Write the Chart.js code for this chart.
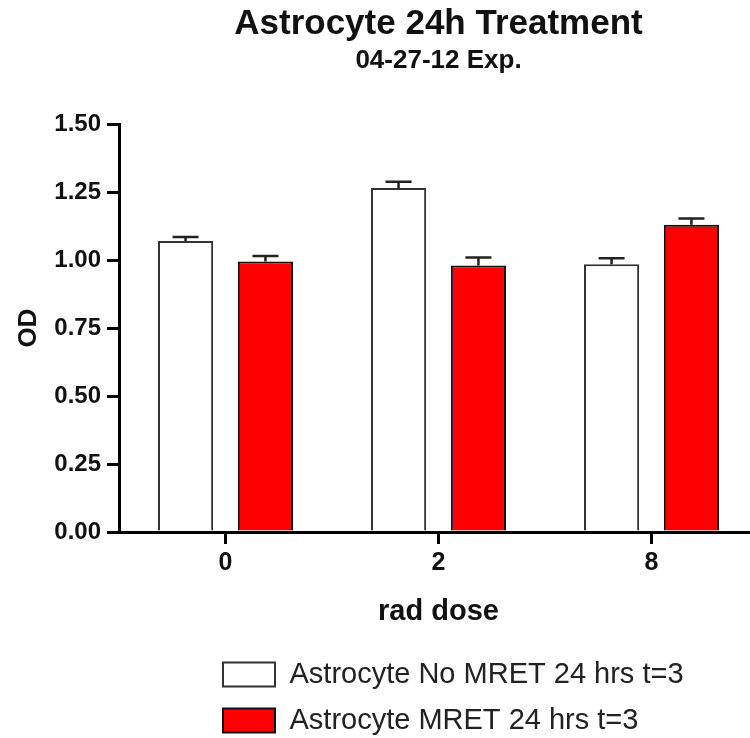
<!DOCTYPE html>
<html>
<head>
<meta charset="utf-8">
<title>Astrocyte 24h Treatment</title>
<script src="https://cdn.jsdelivr.net/npm/chart.js@4.4.1/dist/chart.umd.min.js"></script>
<style>
  html, body { margin: 0; padding: 0; background: #fff; overflow: hidden; }
  #chart { display: block; }
</style>
</head>
<body>
<canvas id="chart" width="758" height="738"></canvas>
<script>
// dati
const doseLabels = ["0", "2", "8"];
const noMretValues = [1.07, 1.265, 0.985];
const noMretErrors = [0.015, 0.023, 0.022];
const mretValues = [0.995, 0.98, 1.13];
const mretErrors = [0.02, 0.03, 0.023];
const yTicks = [0, 0.25, 0.5, 0.75, 1.0, 1.25, 1.5];

const FONT = "'Liberation Sans', Arial, sans-serif";
const INK = "#111";

// barre di errore (solo verso l'alto)
const errorBars = {
  id: "errorBars",
  afterDatasetsDraw(chart) {
    const ctx = chart.ctx;
    const yScale = chart.scales.y;
    chart.data.datasets.forEach((ds, i) => {
      const meta = chart.getDatasetMeta(i);
      meta.data.forEach((bar, j) => {
        const top = yScale.getPixelForValue(ds.data[j] + ds.errors[j]);
        ctx.save();
        ctx.strokeStyle = "#222";
        ctx.lineWidth = 2.5;
        ctx.beginPath();
        ctx.moveTo(bar.x, bar.y);
        ctx.lineTo(bar.x, top);
        ctx.moveTo(bar.x - 13, top);
        ctx.lineTo(bar.x + 13, top);
        ctx.stroke();
        ctx.restore();
      });
    });
  }
};

// sposta la legenda sotto il grafico, allineata a sinistra
const legendShift = {
  id: "legendShift",
  beforeDraw(chart) {
    chart.legend.left = 206;
    chart.legend.top = 643;
  }
};

new Chart(document.getElementById("chart"), {
  type: "bar",
  data: {
    labels: doseLabels,
    datasets: [
      {
        label: "Astrocyte No MRET 24 hrs t=3",
        data: noMretValues,
        errors: noMretErrors,
        backgroundColor: "#ffffff",
        borderColor: "#333",
        borderWidth: 2,
        categoryPercentage: 0.75,
        barPercentage: 0.69,
      },
      {
        label: "Astrocyte MRET 24 hrs t=3",
        data: mretValues,
        errors: mretErrors,
        backgroundColor: "#ff0000",
        borderColor: "#111",
        borderWidth: 2,
        categoryPercentage: 0.75,
        barPercentage: 0.69,
      },
    ],
  },
  options: {
    responsive: false,
    animation: false,
    layout: { padding: 0 },
    plugins: {
      title: {
        display: true,
        text: "Astrocyte 24h Treatment",
        color: INK,
        fullSize: false,
        font: { family: FONT, size: 35, weight: "bold" },
        padding: { top: 3, bottom: 0 },
      },
      subtitle: {
        display: true,
        text: "04-27-12 Exp.",
        color: INK,
        fullSize: false,
        font: { family: FONT, size: 26, weight: "bold" },
        padding: { top: 0, bottom: 48 },
      },
      legend: {
        position: "bottom",
        align: "start",
        labels: {
          color: "#222",
          boxWidth: 52,
          boxHeight: 24,
          padding: 17,
          font: { family: FONT, size: 29 },
        },
      },
      tooltip: { enabled: false },
    },
    scales: {
      x: {
        afterFit: (scale) => { scale.height = 104; },
        grid: {
          offset: false,
          drawOnChartArea: false,
          drawTicks: true,
          tickLength: 12,
          lineWidth: 3,
          color: "#000",
        },
        border: { display: true, width: 3, color: "#000" },
        ticks: {
          color: INK,
          padding: 4,
          font: { family: FONT, size: 25, weight: "bold" },
        },
        title: {
          display: true,
          text: "rad dose",
          color: INK,
          font: { family: FONT, size: 29, weight: "bold" },
          padding: { top: 0, bottom: 7 },
        },
      },
      y: {
        min: 0,
        max: 1.5,
        afterFit: (scale) => { scale.width = 119; },
        afterBuildTicks: (scale) => {
          scale.ticks = yTicks.map((v) => ({ value: v }));
        },
        grid: {
          drawOnChartArea: false,
          drawTicks: true,
          tickLength: 12,
          lineWidth: 3,
          color: "#000",
        },
        border: { display: true, width: 3, color: "#000" },
        ticks: {
          color: INK,
          padding: 6,
          font: { family: FONT, size: 24, weight: "bold" },
          callback: (value) => value.toFixed(2),
        },
        title: {
          display: true,
          text: "OD",
          color: INK,
          font: { family: FONT, size: 26, weight: "bold" },
          padding: { top: 13, bottom: 0 },
        },
      },
    },
  },
  plugins: [errorBars, legendShift],
});
</script>
</body>
</html>
